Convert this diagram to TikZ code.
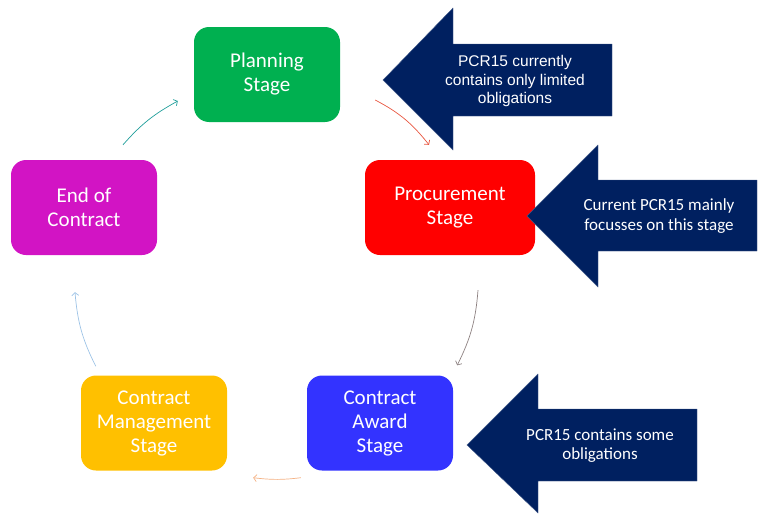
\documentclass[tikz,border=0pt]{standalone}
\usepackage{fontspec}
\setmainfont{Carlito}
\newfontfamily\arialfont{Liberation Sans}
\usetikzlibrary{
    arrows.meta,
    bending
}
\definecolor{plan green}{HTML}{00B050}
\definecolor{proc red}{HTML}{FF0000}
\definecolor{award blue}{HTML}{3333FF}
\definecolor{mgmt yellow}{HTML}{FFC000}
\definecolor{end magenta}{HTML}{D214C4}
\definecolor{note navy}{HTML}{002060}
\tikzset{
    % Connector colors
    cycle teal/.style={color={rgb,255:red,31;green,158;blue,154}},
    cycle red/.style={color={rgb,255:red,232;green,85;blue,63}},
    cycle gray/.style={color={rgb,255:red,140;green,128;blue,128}},
    cycle orange/.style={color={rgb,255:red,244;green,177;blue,131}},
    cycle light blue/.style={color={rgb,255:red,157;green,195;blue,230}},
    %
    % Stages and notes
    stage/.style={rounded corners=15pt,minimum width=146pt,minimum height=95pt,inner sep=0pt,
        align=center,text=white,font=\fontsize{21}{24}\selectfont},
    note/.style={align=center,text=white,font=\fontsize{17}{19.5}\selectfont},
    big arrow/.style={fill=note navy,draw=note navy!75!white,line width=0.4pt},
    %
    % Arrows
    arrow tip/.tip={Straight Barb[length=3pt,width=7pt]},
    arr/.style={->,>={arrow tip},line width=0.7pt}
}

\begin{document}
\begin{tikzpicture}[x=1pt,y=1pt]
    \useasboundingbox (0,0) rectangle (763,-514);
    % stages
    \node[stage,fill=plan green] (plan) at (267,-74.5) {Planning\\Stage};
    \node[stage,fill=proc red,minimum width=170pt] (proc) at (450,-207.5) {Procurement\\Stage};
    \node[stage,fill=award blue] (award) at (380,-423) {Contract\\Award\\Stage};
    \node[stage,fill=mgmt yellow] (mgmt) at (154,-423) {Contract\\Management\\Stage};
    \node[stage,fill=end magenta] (eoc) at (84,-207.5) {End of\\Contract};
    % cycle
    \draw[arr,cycle teal] ([shift={(39,15)}]eoc.north) to[bend left=10] ([shift={(-16,-26.5)}]plan.west);
    \draw[arr,cycle red] ([shift={(35,-25.5)}]plan.east) to[bend left=12] ([shift={(-21,15)}]proc.north);
    \draw[arr,cycle gray] ([shift={(28,-35)}]proc.south) to[bend left=11] ([shift={(4,10)}]award.north east);
    \draw[arr,cycle orange] ([shift={(-6,-7)}]award.south west) to[bend left=7] ([shift={(26,-7)}]mgmt.south east);
    \draw[arr,cycle light blue] ([shift={(15,9)}]mgmt.north west) to[bend left=11] ([shift={(-9,-37)}]eoc.south);
    % notes
    \filldraw[big arrow] (383,-80) -- (453,-8) -- (453,-44) -- (612,-44) -- (612,-116) -- (453,-116) -- (453,-150) -- cycle;
    \node[note,font=\arialfont\fontsize{15.5}{18.5}\selectfont] (limited) at (515,-81) {PCR15 currently\\contains only limited\\obligations};
    \filldraw[big arrow] (527,-216) -- (598,-145) -- (598,-180) -- (757,-180) -- (757,-251) -- (598,-251) -- (598,-287) -- cycle;
    \node[note] (focus) at (659,-216) {Current PCR15 mainly\\focusses on this stage};
    \filldraw[big arrow] (467,-445) -- (538,-374) -- (538,-409) -- (697,-409) -- (697,-481) -- (538,-481) -- (538,-513) -- cycle;
    \node[note] (some) at (600,-445.5) {PCR15 contains some\\obligations};
\end{tikzpicture}
\end{document}
